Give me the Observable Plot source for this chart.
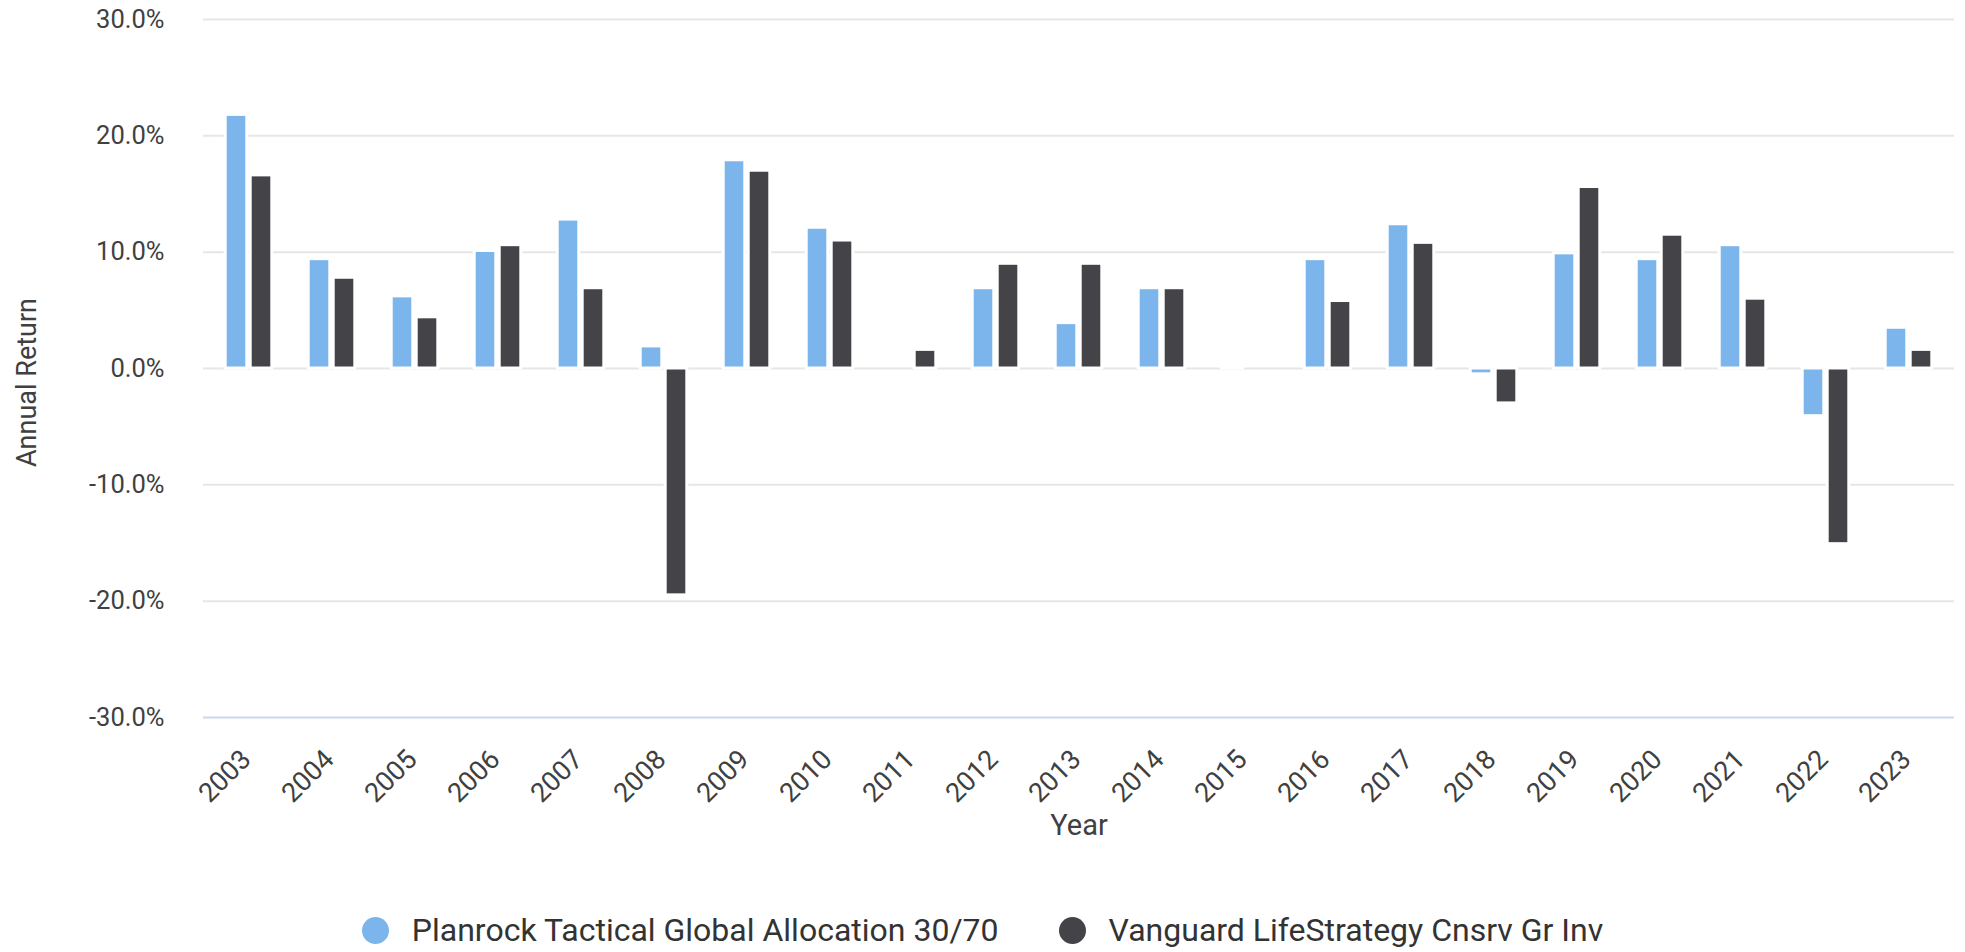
<!DOCTYPE html>
<html>
<head>
<meta charset="utf-8">
<script src="https://cdn.jsdelivr.net/npm/d3@7"></script>
<script src="https://cdn.jsdelivr.net/npm/@observablehq/plot@0.6"></script>
<style>
  html, body { margin: 0; padding: 0; background: #fff; }
  body { width: 1965px; height: 952px; overflow: hidden; font-family: Roboto, sans-serif; }
  #chart svg { display: block; }
  #legend { display: flex; justify-content: center; align-items: center; padding-top: 54px; height: 32px; }
  .item { display: flex; align-items: center; font-size: 32px; color: #333; }
  .item + .item { margin-left: 60px; }
  .dot { width: 27px; height: 27px; border-radius: 50%; margin-right: 23px; }
</style>
</head>
<body>
<div id="chart"></div>
<div id="legend"></div>
<script>
const years = ["2003","2004","2005","2006","2007","2008","2009","2010","2011","2012","2013","2014","2015","2016","2017","2018","2019","2020","2021","2022","2023"];
const planrock = [21.8, 9.4, 6.2, 10.1, 12.8, 1.9, 17.9, 12.1, null, 6.9, 3.9, 6.9, 0.1, 9.4, 12.4, -0.5, 9.9, 9.4, 10.6, -4.1, 3.5];
const vanguard = [16.6, 7.8, 4.4, 10.6, 6.9, -19.5, 17.0, 11.0, 1.6, 9.0, 9.0, 6.9, null, 5.8, 10.8, -3.0, 15.6, 11.5, 6.0, -15.1, 1.6];
const seriesNames = ["Planrock Tactical Global Allocation 30/70", "Vanguard LifeStrategy Cnsrv Gr Inv"];
const seriesColors = ["#7cb5ec", "#434348"];
const yTicks = [-30, -20, -10, 0, 10, 20, 30];

const planrockRows = years.map((year, i) => ({year, value: planrock[i]})).filter(d => d.value != null);
const vanguardRows = years.map((year, i) => ({year, value: vanguard[i]})).filter(d => d.value != null);

const chart = Plot.plot({
  width: 1965,
  height: 860,
  marginLeft: 203,
  marginRight: 11,
  marginTop: 19,
  marginBottom: 143,
  style: {fontFamily: "Roboto, sans-serif", background: "white", overflow: "visible"},
  x: {type: "band", domain: years, padding: 0, axis: null},
  y: {domain: [-30, 30], axis: null},
  marks: [
    Plot.ruleY(yTicks.filter(d => d !== -30), {stroke: "#e6e6e6", strokeWidth: 2}),
    Plot.ruleY([-30], {stroke: "#ccd6eb", strokeWidth: 2}),
    Plot.barY(planrockRows, {x: "year", y: "value", fill: seriesColors[0], stroke: "white", strokeWidth: 3, insetLeft: 18.2, insetRight: 43.2}),
    Plot.barY(vanguardRows, {x: "year", y: "value", fill: seriesColors[1], stroke: "white", strokeWidth: 3, insetLeft: 43.2, insetRight: 18.2}),
    Plot.text(yTicks, {y: d => d, text: d => d.toFixed(1) + "%", frameAnchor: "left", dx: -39, textAnchor: "end", fontSize: 25.5, fill: "#404040"}),
    Plot.text(years, {x: d => d, text: d => d, frameAnchor: "bottom", rotate: -45, textAnchor: "end", lineAnchor: "top", dx: -10, dy: 30, fontSize: 27, fill: "#404040"}),
    Plot.text(["Year"], {text: d => d, frameAnchor: "bottom", dy: 117, fontSize: 29, fill: "#404040"}),
    Plot.text(["Annual Return"], {text: d => d, frameAnchor: "left", textAnchor: "middle", dx: -176, dy: 14, rotate: -90, fontSize: 27, fill: "#404040"})
  ]
});
document.getElementById("chart").appendChild(chart);

const legend = document.getElementById("legend");
seriesNames.forEach((name, i) => {
  const item = document.createElement("div");
  item.className = "item";
  const dot = document.createElement("span");
  dot.className = "dot";
  dot.style.background = seriesColors[i];
  const label = document.createElement("span");
  label.textContent = name;
  item.appendChild(dot);
  item.appendChild(label);
  legend.appendChild(item);
});
</script>
</body>
</html>
